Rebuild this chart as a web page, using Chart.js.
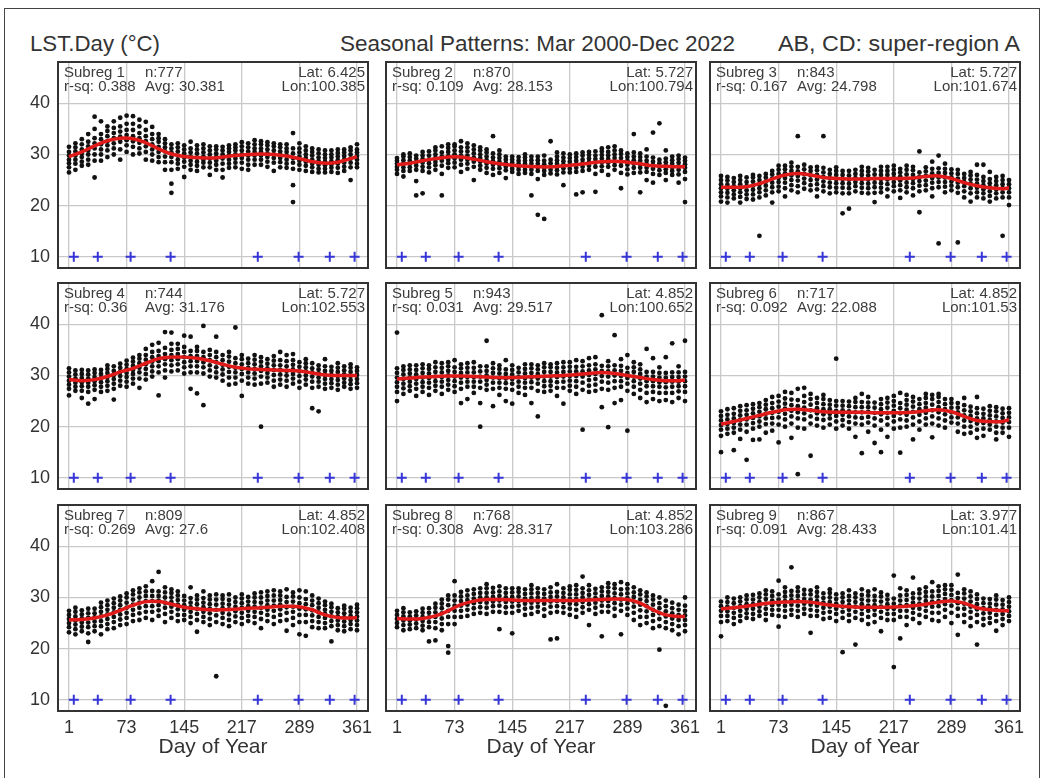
<!DOCTYPE html>
<html>
<head>
<meta charset="utf-8">
<title>LST.Day seasonal patterns</title>
<script src="https://cdn.jsdelivr.net/npm/chart.js@4.4.1/dist/chart.umd.min.js"></script>
<style>
  body { margin: 0; background: #fff; width: 1044px; height: 778px; overflow: hidden; position: relative;
         font-family: "Liberation Sans", Arial, sans-serif; color: #333; }
  #frame { position: absolute; left: 4px; top: 8px; width: 1034px; height: 800px; border: 1.5px solid #444; }
  .title { position: absolute; top: 33px; font-size: 22px; line-height: 22px; white-space: nowrap; transform-origin: left top; color: #333; }
  .plot canvas { position: absolute; }
  .box { position: absolute; border: 2px solid #333; box-sizing: border-box; pointer-events: none; }
  .hdr { position: absolute; font-size: 15px; line-height: 14px; white-space: nowrap; color: #3c3c3c; }
</style>
</head>
<body>
<div id="frame"></div>
<div class="title" style="left:30px" data-w="130">LST.Day (°C)</div>
<div class="title" style="left:340px" data-w="395">Seasonal Patterns: Mar 2000-Dec 2022</div>
<div class="title" style="left:778px" data-w="242">AB, CD: super-region A</div>
<div id="plots" class="plot"></div>

<script>
// 8-day composite days, smoothed-curve knots, axis ticks
const compositeDays = [1, 9, 17, 25, 33, 41, 49, 57, 65, 73, 81, 89, 97, 105, 113, 121, 129, 137, 145, 153, 161, 169, 177,
  185, 193, 201, 209, 217, 225, 233, 241, 249, 257, 265, 273, 281, 289, 297, 305, 313, 321, 329, 337, 345, 353, 361];
const curveDays = [1, 17, 33, 49, 65, 81, 97, 113, 129, 145, 161, 177, 193, 209, 225, 241, 257, 273, 289, 305, 321, 337, 353, 361];
const xTickValues = [1, 73, 145, 217, 289, 361];
const yTickValues = [10, 20, 30, 40];
const markerDays = [7, 37, 78, 128, 237, 288, 327, 358];
const markerLevel = 10;

// panel header info
const subregN = [777, 870, 843, 744, 943, 717, 809, 768, 867];
const rSq = ["0.388", "0.109", "0.167", "0.36", "0.031", "0.092", "0.269", "0.308", "0.091"];
const avgLst = ["30.381", "28.153", "24.798", "31.176", "29.517", "22.088", "27.6", "28.317", "28.433"];
const lat = ["6.425", "5.727", "5.727", "5.727", "4.852", "4.852", "4.852", "4.852", "3.977"];
const lon = ["100.385", "100.794", "101.674", "102.553", "100.652", "101.53", "102.408", "103.286", "101.41"];

// smoothed seasonal curve per subregion (at curveDays)
const curve1 = [29.6, 30.5, 31.7, 32.7, 33.2, 33.1, 32.3, 31.1, 30.1, 29.6, 29.4, 29.3, 29.5, 29.8, 30.0, 30.1, 30.0, 29.7, 29.2, 28.6, 28.3, 28.5, 29.2, 29.6];
const curve2 = [28.0, 28.3, 28.8, 29.2, 29.5, 29.5, 29.1, 28.6, 28.2, 27.9, 27.7, 27.6, 27.6, 27.8, 28.0, 28.3, 28.6, 28.7, 28.5, 28.2, 27.8, 27.7, 27.6, 27.6];
const curve3 = [23.6, 23.6, 23.7, 24.3, 25.2, 26.0, 26.3, 26.0, 25.5, 25.3, 25.2, 25.2, 25.3, 25.3, 25.3, 25.4, 25.7, 25.8, 25.3, 24.5, 23.9, 23.5, 23.3, 23.5];
const curve4 = [29.2, 29.0, 29.2, 29.8, 30.7, 31.4, 32.4, 33.3, 33.6, 33.6, 33.4, 32.9, 32.2, 31.6, 31.3, 31.2, 31.1, 31.0, 30.9, 30.5, 30.1, 30.0, 30.0, 30.0];
const curve5 = [29.3, 29.5, 29.7, 29.8, 29.9, 29.9, 29.8, 29.7, 29.6, 29.6, 29.7, 29.8, 29.9, 30.0, 30.2, 30.4, 30.6, 30.4, 30.0, 29.6, 29.2, 29.0, 29.0, 29.1];
const curve6 = [20.5, 21.0, 21.6, 22.2, 22.8, 23.3, 23.4, 23.2, 22.9, 22.8, 22.8, 22.8, 22.7, 22.7, 22.7, 22.8, 23.1, 23.3, 22.9, 22.0, 21.2, 21.0, 21.0, 21.4];
const curve7 = [25.6, 25.7, 26.0, 26.6, 27.5, 28.5, 29.2, 29.2, 28.7, 28.1, 27.8, 27.6, 27.6, 27.7, 27.9, 28.0, 28.2, 28.3, 28.2, 27.6, 26.6, 26.1, 26.0, 26.1];
const curve8 = [25.9, 25.8, 25.9, 26.4, 27.4, 28.6, 29.3, 29.6, 29.6, 29.5, 29.4, 29.4, 29.4, 29.4, 29.4, 29.5, 29.6, 29.7, 29.6, 28.9, 27.6, 26.6, 26.3, 26.3];
const curve9 = [27.8, 28.0, 28.3, 28.7, 29.0, 29.1, 29.2, 29.1, 28.7, 28.4, 28.2, 28.1, 28.1, 28.1, 28.2, 28.4, 28.7, 29.1, 29.3, 28.9, 28.0, 27.6, 27.4, 27.4];

// observed LST values, one list per composite day
const dots1 = [
  [26.5, 27.5, 28.3, 29.0, 29.8, 30.5, 31.5], [27.0, 28.2, 29.0, 29.8, 30.6, 31.4, 32.2], [27.8, 28.6, 29.5, 30.2, 31.0, 32.0, 33.0],
  [28.0, 29.0, 30.0, 30.8, 31.6, 32.5, 34.0], [25.5, 28.8, 30.0, 31.2, 32.2, 33.2, 35.0, 37.4], [28.8, 30.0, 31.0, 32.0, 33.0, 34.0, 36.5],
  [29.5, 30.8, 31.8, 32.6, 33.6, 34.6, 35.5], [30.0, 31.2, 32.2, 33.2, 34.2, 35.2, 36.5], [29.0, 31.0, 32.5, 33.5, 34.5, 35.5, 37.2],
  [30.5, 31.8, 32.8, 33.8, 34.8, 36.0, 37.6], [30.0, 31.5, 32.6, 33.6, 34.8, 36.0, 37.5], [30.2, 31.2, 32.3, 33.2, 34.2, 35.5, 36.8],
  [29.0, 30.5, 31.6, 32.6, 33.6, 34.8, 36.4], [28.8, 30.0, 31.0, 32.0, 33.0, 34.0, 35.4], [28.5, 29.5, 30.5, 31.5, 32.5, 33.2, 34.0],
  [27.0, 28.5, 29.6, 30.6, 31.4, 32.2, 33.0], [22.5, 24.3, 27.0, 28.5, 29.5, 30.4, 31.2, 32.0], [27.2, 28.2, 29.0, 29.8, 30.6, 31.4, 32.2],
  [25.6, 27.6, 28.6, 29.4, 30.2, 31.0, 31.8], [27.0, 28.0, 28.8, 29.6, 30.4, 31.2, 32.5], [26.8, 27.8, 28.6, 29.4, 30.2, 31.0, 31.8],
  [27.5, 28.4, 29.0, 29.6, 30.4, 31.2, 32.0], [26.0, 27.5, 28.4, 29.2, 30.0, 30.8, 31.6], [27.0, 28.0, 28.8, 29.5, 30.2, 31.0, 31.6],
  [25.5, 27.0, 28.2, 29.2, 30.0, 30.8, 31.5], [27.4, 28.2, 29.0, 29.8, 30.5, 31.2, 31.8], [27.5, 28.4, 29.2, 30.0, 30.8, 31.4, 32.0],
  [27.2, 28.4, 29.3, 30.0, 30.8, 31.6, 32.4], [27.0, 28.0, 29.0, 29.8, 30.6, 31.4, 32.2], [28.0, 29.0, 29.8, 30.5, 31.2, 32.0, 32.8],
  [28.0, 29.0, 29.8, 30.5, 31.2, 32.0, 32.6], [27.6, 28.6, 29.5, 30.2, 31.0, 31.8, 32.4], [26.8, 28.4, 29.3, 30.0, 30.8, 31.6, 32.2],
  [27.5, 28.5, 29.3, 30.0, 30.6, 31.4, 32.0], [27.4, 28.2, 29.0, 29.8, 30.5, 31.2, 32.0], [20.7, 24.0, 27.2, 28.4, 29.3, 30.2, 31.2, 34.2],
  [27.0, 28.0, 28.8, 29.6, 30.4, 31.2, 32.2], [26.8, 27.8, 28.6, 29.3, 30.0, 30.8, 31.6], [26.6, 27.5, 28.2, 29.0, 29.8, 30.5, 31.2],
  [26.5, 27.2, 28.0, 28.7, 29.4, 30.2, 31.0], [26.5, 27.2, 27.9, 28.6, 29.3, 30.0, 30.8], [26.6, 27.4, 28.0, 28.7, 29.4, 30.0, 30.8],
  [26.4, 27.4, 28.2, 28.9, 29.6, 30.3, 31.0], [26.8, 27.6, 28.4, 29.0, 29.7, 30.4, 31.0], [25.0, 27.5, 28.4, 29.2, 30.0, 30.8, 31.4],
  [27.5, 28.2, 29.0, 29.7, 30.4, 31.0, 32.0]
];
const dots2 = [
  [26.2, 27.0, 27.6, 28.2, 28.8, 29.3], [25.7, 26.8, 27.5, 28.2, 28.9, 29.6, 30.0], [26.8, 27.5, 28.2, 28.8, 29.5, 30.2],
  [22.0, 24.8, 27.0, 27.8, 28.5, 29.2, 29.8], [22.4, 26.8, 27.6, 28.4, 29.1, 29.8, 30.5], [26.5, 27.5, 28.3, 29.0, 29.8, 30.6],
  [27.0, 27.9, 28.6, 29.3, 30.0, 30.8, 31.4], [22.0, 26.2, 27.8, 28.8, 29.6, 30.4, 31.6], [27.4, 28.3, 29.0, 29.7, 30.5, 31.3, 32.0],
  [27.5, 28.4, 29.2, 30.0, 30.8, 31.6, 32.0], [26.6, 28.0, 29.0, 29.8, 30.6, 31.4, 32.6], [27.2, 28.2, 29.0, 29.8, 30.6, 31.4, 32.2],
  [25.0, 27.6, 28.6, 29.4, 30.2, 31.0, 31.8], [27.0, 27.8, 28.6, 29.3, 30.0, 30.8, 31.4], [26.4, 27.4, 28.2, 28.9, 29.6, 30.4, 31.0],
  [26.0, 27.2, 28.0, 28.7, 29.4, 30.2, 33.6], [26.4, 27.3, 28.0, 28.6, 29.3, 30.0, 30.8], [25.4, 26.9, 27.6, 28.3, 29.0, 29.6],
  [26.6, 27.2, 27.8, 28.4, 29.0, 29.6], [26.2, 27.0, 27.6, 28.2, 28.8, 29.5], [26.4, 27.0, 27.6, 28.2, 28.8, 29.4, 30.0],
  [22.0, 26.2, 27.0, 27.6, 28.2, 28.9, 29.6], [18.2, 25.2, 26.8, 27.5, 28.2, 28.9, 29.6], [17.4, 26.0, 26.8, 27.4, 28.1, 28.8, 29.8],
  [26.3, 27.0, 27.6, 28.3, 29.0, 32.6], [26.1, 26.9, 27.5, 28.2, 28.9, 29.6, 30.4], [24.0, 26.5, 27.3, 28.0, 28.7, 29.4, 30.2],
  [26.5, 27.2, 27.9, 28.6, 29.3, 30.0], [22.2, 26.6, 27.4, 28.1, 28.8, 29.5, 30.2], [22.6, 26.8, 27.6, 28.3, 29.0, 29.8, 30.4],
  [27.0, 27.8, 28.5, 29.2, 29.9, 30.5], [22.7, 26.2, 27.6, 28.4, 29.1, 29.8, 30.6], [26.8, 27.7, 28.5, 29.2, 29.9, 30.6, 31.2],
  [26.0, 27.6, 28.4, 29.1, 29.8, 30.5, 31.4], [27.0, 27.9, 28.6, 29.3, 30.0, 30.8, 31.6], [23.4, 26.4, 27.8, 28.6, 29.3, 30.1, 30.8],
  [26.1, 27.1, 28.0, 28.8, 29.5, 30.2], [26.4, 27.4, 28.2, 28.9, 29.6, 30.4, 34.0], [22.6, 26.5, 27.4, 28.1, 28.8, 29.5, 30.2],
  [25.0, 26.6, 27.4, 28.1, 28.8, 29.6, 31.0], [24.5, 26.2, 27.2, 27.9, 28.6, 29.4, 34.3], [26.0, 26.9, 27.6, 28.3, 29.0, 36.1],
  [25.0, 26.4, 27.1, 27.8, 28.5, 29.2, 30.8], [26.0, 26.8, 27.5, 28.2, 28.9, 29.6], [24.5, 26.1, 27.0, 27.7, 28.4, 29.1, 29.8],
  [20.7, 25.2, 26.6, 27.4, 28.1, 28.8, 29.4]
];
const dots3 = [
  [20.8, 21.8, 22.6, 23.4, 24.2, 25.0, 25.8], [20.6, 21.6, 22.5, 23.3, 24.1, 24.9, 25.6], [21.4, 22.2, 23.0, 23.8, 24.6, 25.4],
  [20.6, 21.7, 22.6, 23.4, 24.2, 25.0, 25.8], [21.3, 22.2, 23.0, 23.8, 24.6, 25.5], [21.2, 22.2, 23.1, 23.9, 24.7, 25.5, 26.0],
  [14.1, 21.6, 22.6, 23.4, 24.2, 25.0, 25.8], [22.0, 23.0, 23.9, 24.7, 25.5, 26.2], [20.6, 22.6, 23.6, 24.5, 25.3, 26.1, 26.8],
  [22.8, 23.7, 24.6, 25.4, 26.2, 27.0, 27.8], [21.8, 23.4, 24.5, 25.4, 26.3, 27.1, 27.8], [23.0, 24.0, 25.0, 25.9, 26.8, 27.6, 28.4],
  [22.6, 23.8, 24.9, 25.8, 26.7, 27.6, 33.6], [23.3, 24.4, 25.3, 26.2, 27.1, 28.0], [23.0, 24.0, 25.0, 25.9, 26.8, 27.5],
  [21.8, 23.2, 24.2, 25.1, 26.0, 26.9, 27.6], [22.8, 23.8, 24.7, 25.6, 26.5, 27.4, 33.6], [22.4, 23.6, 24.5, 25.4, 26.2, 27.0],
  [22.6, 23.5, 24.4, 25.2, 26.0, 26.8, 27.5], [18.5, 22.4, 23.5, 24.4, 25.2, 26.0, 26.8], [19.4, 22.4, 23.4, 24.3, 25.1, 25.9, 26.8],
  [22.8, 23.8, 24.6, 25.4, 26.2, 27.0], [22.5, 23.5, 24.4, 25.2, 26.0, 26.8, 27.6], [22.4, 23.4, 24.3, 25.1, 25.9, 26.7, 27.4],
  [20.7, 22.5, 23.6, 24.5, 25.3, 26.1, 27.0], [22.6, 23.5, 24.4, 25.2, 26.0, 26.8, 27.6], [21.8, 23.2, 24.2, 25.1, 26.0, 26.8, 27.6],
  [22.8, 23.8, 24.6, 25.4, 26.2, 27.0, 27.8], [21.5, 23.0, 24.0, 24.9, 25.7, 26.5, 27.2], [22.6, 23.6, 24.5, 25.3, 26.1, 27.0, 27.8],
  [22.0, 23.4, 24.4, 25.2, 26.0, 26.9, 27.6], [18.7, 22.8, 23.9, 24.8, 25.6, 26.5, 30.6], [23.0, 24.0, 24.9, 25.8, 26.7, 27.5],
  [21.8, 23.4, 24.5, 25.4, 26.3, 27.2, 28.6], [12.6, 23.6, 24.6, 25.5, 26.4, 27.3, 29.8], [22.6, 23.7, 24.6, 25.5, 26.4, 27.2, 28.2],
  [23.0, 23.9, 24.7, 25.5, 26.3, 27.1], [12.8, 22.5, 23.6, 24.5, 25.3, 26.2, 27.0], [21.6, 22.8, 23.8, 24.6, 25.4, 26.2],
  [20.8, 22.4, 23.4, 24.3, 25.1, 25.9, 26.6], [21.6, 22.6, 23.5, 24.3, 25.1, 26.0, 28.0], [21.4, 22.4, 23.2, 24.0, 24.8, 25.6, 28.0],
  [20.8, 21.9, 22.8, 23.6, 24.4, 25.2, 26.6], [21.4, 22.4, 23.2, 24.0, 24.8, 25.6], [14.1, 21.6, 22.6, 23.4, 24.2, 25.0, 25.8],
  [20.1, 21.6, 22.6, 23.4, 24.2, 25.0]
];
const dots4 = [
  [26.1, 27.4, 28.2, 29.0, 29.8, 30.6, 31.4], [27.0, 27.8, 28.6, 29.4, 30.2, 31.0], [25.6, 27.0, 27.9, 28.7, 29.5, 30.3, 31.1],
  [24.5, 26.8, 27.8, 28.6, 29.4, 30.2, 31.0], [25.4, 27.2, 28.1, 28.9, 29.7, 30.5, 31.2], [26.8, 27.8, 28.7, 29.5, 30.3, 31.1],
  [27.0, 28.0, 28.9, 29.7, 30.5, 31.3, 32.0], [25.3, 27.4, 28.4, 29.3, 30.1, 30.9, 31.8], [28.0, 29.0, 29.9, 30.7, 31.5, 32.3],
  [27.8, 28.8, 29.7, 30.5, 31.3, 32.1, 32.9], [28.4, 29.4, 30.3, 31.1, 31.9, 32.7, 33.5], [27.6, 29.4, 30.6, 31.5, 32.4, 33.3, 34.0],
  [29.2, 30.3, 31.3, 32.2, 33.1, 34.0, 35.2], [29.8, 30.8, 31.8, 32.7, 33.6, 34.6, 36.0], [26.1, 30.6, 31.8, 32.8, 33.8, 34.8, 36.4],
  [29.6, 31.0, 32.2, 33.2, 34.2, 35.4, 38.5], [30.8, 32.0, 33.0, 34.0, 35.0, 36.2, 38.4], [31.0, 32.2, 33.2, 34.2, 35.2, 36.2],
  [30.4, 31.6, 32.6, 33.6, 34.6, 35.6, 37.8], [27.4, 30.6, 31.8, 32.8, 33.8, 34.8, 37.6], [26.5, 30.6, 31.8, 32.8, 33.8, 34.8, 35.6],
  [24.2, 30.4, 31.6, 32.6, 33.6, 34.6, 39.7], [29.8, 31.0, 32.0, 33.0, 34.0, 35.0], [29.6, 30.6, 31.6, 32.6, 33.6, 34.6, 37.6],
  [29.0, 30.2, 31.2, 32.1, 33.0, 34.0], [28.2, 29.6, 30.7, 31.7, 32.7, 33.7, 34.6], [28.4, 29.6, 30.6, 31.5, 32.4, 33.4, 39.4],
  [26.0, 29.0, 30.3, 31.3, 32.2, 33.2, 34.0], [28.4, 29.6, 30.6, 31.5, 32.4, 33.3], [28.2, 29.4, 30.4, 31.3, 32.2, 33.1, 34.0],
  [20.0, 28.4, 29.8, 30.9, 31.8, 32.7, 33.6], [28.6, 29.6, 30.5, 31.4, 32.3, 33.2], [27.8, 29.0, 30.1, 31.1, 32.0, 32.9, 33.8],
  [28.2, 29.2, 30.2, 31.1, 32.0, 33.0, 34.6], [27.8, 29.0, 30.0, 30.9, 31.8, 32.8, 34.0], [28.4, 29.4, 30.3, 31.2, 32.1, 33.0, 34.2],
  [27.6, 28.8, 29.9, 30.8, 31.7, 32.6], [28.2, 29.2, 30.0, 30.8, 31.6, 32.4, 33.2], [23.6, 27.6, 28.8, 29.8, 30.6, 31.4, 32.4],
  [23.0, 27.8, 28.8, 29.6, 30.4, 31.2, 32.0], [27.4, 28.4, 29.3, 30.1, 30.9, 31.8, 33.2], [27.6, 28.5, 29.3, 30.1, 30.9, 31.7],
  [27.2, 28.2, 29.1, 29.9, 30.7, 31.5, 32.4], [27.8, 28.6, 29.4, 30.2, 31.0, 31.8], [27.4, 28.3, 29.1, 29.9, 30.7, 31.5, 32.2],
  [27.6, 28.5, 29.3, 30.1, 30.9, 31.6]
];
const dots5 = [
  [25.0, 26.8, 27.8, 28.7, 29.6, 30.5, 31.4, 38.4], [26.4, 27.5, 28.4, 29.3, 30.2, 31.1, 31.8], [27.0, 27.9, 28.8, 29.6, 30.4, 31.2, 32.0],
  [26.0, 27.4, 28.4, 29.3, 30.2, 31.1, 32.0], [26.8, 27.8, 28.7, 29.6, 30.5, 31.4, 32.2], [26.2, 27.6, 28.6, 29.5, 30.4, 31.3, 32.0],
  [27.0, 28.0, 28.9, 29.8, 30.7, 31.6, 32.6], [26.4, 27.8, 28.8, 29.7, 30.6, 31.5, 32.4], [27.2, 28.2, 29.1, 30.0, 30.9, 31.8, 32.6],
  [26.8, 27.9, 28.9, 29.8, 30.7, 31.6, 33.0], [24.6, 27.4, 28.6, 29.6, 30.5, 31.4, 32.2], [25.4, 27.8, 28.8, 29.7, 30.6, 31.5, 32.4],
  [26.6, 27.8, 28.8, 29.7, 30.6, 31.5, 32.6], [20.0, 24.6, 27.6, 28.8, 29.8, 30.8, 31.8], [27.2, 28.2, 29.1, 30.0, 30.9, 31.8, 36.8],
  [24.0, 27.4, 28.6, 29.6, 30.5, 31.4, 32.4], [26.2, 27.6, 28.6, 29.5, 30.4, 31.3, 32.0], [25.0, 27.4, 28.5, 29.4, 30.3, 31.2, 33.0],
  [24.5, 27.2, 28.4, 29.3, 30.2, 31.1, 32.0], [26.6, 27.8, 28.8, 29.7, 30.6, 31.5], [26.2, 27.6, 28.6, 29.5, 30.4, 31.3, 32.2],
  [24.6, 27.6, 28.7, 29.6, 30.5, 31.4, 32.2], [22.0, 27.0, 28.4, 29.4, 30.3, 31.2, 32.0], [26.8, 27.9, 28.9, 29.8, 30.7, 31.6, 32.4],
  [27.0, 28.0, 28.9, 29.8, 30.7, 31.6, 32.2], [26.0, 27.6, 28.7, 29.7, 30.6, 31.5, 32.4], [24.5, 27.6, 28.8, 29.8, 30.7, 31.6, 32.6],
  [27.0, 28.0, 29.0, 29.9, 30.8, 31.7, 32.6], [26.4, 27.8, 28.9, 29.9, 30.8, 31.7, 33.0], [19.4, 27.2, 28.6, 29.8, 30.8, 31.8, 32.8],
  [26.8, 28.0, 29.1, 30.1, 31.0, 32.0, 33.4], [27.0, 28.2, 29.3, 30.3, 31.2, 32.2, 33.6], [23.8, 27.4, 28.8, 29.9, 30.9, 31.9, 41.8],
  [19.9, 27.2, 28.6, 29.8, 30.8, 31.8, 32.8], [24.6, 27.6, 28.9, 30.0, 31.0, 32.0, 37.9], [25.2, 27.8, 28.9, 29.9, 30.9, 31.9, 33.2],
  [19.2, 27.0, 28.4, 29.5, 30.5, 31.5, 34.0], [26.4, 27.8, 28.9, 29.8, 30.7, 31.6, 32.6], [25.6, 27.2, 28.4, 29.4, 30.3, 31.2, 32.2],
  [24.8, 26.6, 27.9, 28.9, 29.8, 30.7, 35.2], [25.4, 26.8, 27.9, 28.9, 29.8, 30.7, 33.4], [25.0, 26.6, 27.8, 28.7, 29.6, 30.5, 31.6],
  [25.2, 26.6, 27.7, 28.7, 29.6, 30.5, 33.6], [24.8, 26.6, 27.8, 28.8, 29.7, 30.6, 36.3], [25.6, 26.9, 27.9, 28.8, 29.7, 30.6, 31.8],
  [25.0, 26.8, 27.9, 28.9, 29.8, 30.7, 36.8]
];
const dots6 = [
  [15.0, 18.2, 19.4, 20.3, 21.2, 22.1, 23.0], [18.6, 19.6, 20.5, 21.4, 22.3, 23.4], [15.4, 18.8, 19.8, 20.7, 21.6, 22.5, 23.6],
  [17.6, 19.4, 20.4, 21.3, 22.2, 23.1, 24.0], [13.5, 19.0, 20.4, 21.4, 22.3, 23.2, 24.2], [17.4, 19.6, 20.7, 21.7, 22.6, 23.5, 24.4],
  [17.5, 20.0, 21.0, 22.0, 22.9, 23.8, 24.6], [18.8, 20.5, 21.6, 22.5, 23.4, 24.3, 25.2], [19.2, 20.6, 21.7, 22.7, 23.6, 24.6, 25.8],
  [16.9, 20.4, 21.8, 22.9, 23.9, 24.9, 26.0], [20.0, 21.4, 22.5, 23.5, 24.5, 25.5, 26.8], [17.8, 20.6, 22.0, 23.1, 24.2, 25.3, 26.6],
  [10.7, 19.8, 21.6, 22.8, 24.0, 25.2, 27.4], [19.6, 21.4, 22.6, 23.7, 24.8, 26.0, 27.6], [14.3, 20.6, 22.0, 23.2, 24.3, 25.4, 26.4],
  [20.2, 21.5, 22.6, 23.6, 24.6, 25.6], [19.8, 21.3, 22.4, 23.4, 24.4, 25.4, 26.2], [20.4, 21.6, 22.5, 23.4, 24.3, 25.2],
  [19.6, 21.0, 22.1, 23.1, 24.1, 25.0, 33.3], [20.2, 21.3, 22.3, 23.2, 24.1, 25.0], [19.6, 20.9, 22.0, 23.0, 24.0, 24.9],
  [18.0, 20.6, 21.8, 22.8, 23.8, 24.8, 25.6], [14.8, 20.4, 21.7, 22.8, 23.8, 24.8, 26.4], [19.0, 20.8, 21.9, 22.9, 23.8, 24.7, 25.8],
  [16.8, 20.2, 21.6, 22.7, 23.7, 24.7], [15.0, 19.4, 21.2, 22.4, 23.4, 24.4, 25.4], [18.0, 20.4, 21.7, 22.7, 23.7, 24.7, 25.6],
  [19.6, 21.0, 22.1, 23.1, 24.1, 25.0, 26.0], [14.9, 19.8, 21.4, 22.6, 23.6, 24.6, 26.6], [20.0, 21.2, 22.3, 23.3, 24.3, 25.2, 26.2],
  [17.5, 20.4, 21.8, 22.9, 23.9, 24.9, 25.8], [19.4, 21.0, 22.3, 23.4, 24.4, 25.4], [20.4, 21.6, 22.7, 23.7, 24.6, 25.6, 26.4],
  [17.9, 20.6, 22.0, 23.2, 24.3, 25.4, 26.2], [20.2, 21.6, 22.8, 23.8, 24.8, 25.8, 26.4], [19.8, 21.2, 22.4, 23.4, 24.4, 25.4],
  [20.8, 21.8, 22.8, 23.7, 24.6, 25.4], [19.0, 20.6, 21.8, 22.8, 23.7, 24.6], [18.6, 20.0, 21.2, 22.2, 23.2, 24.2, 25.6],
  [18.8, 20.0, 21.1, 22.1, 23.0, 23.9], [17.8, 19.4, 20.6, 21.6, 22.6, 23.6, 25.8], [18.2, 19.6, 20.7, 21.6, 22.5, 23.5],
  [19.4, 20.4, 21.3, 22.2, 23.1, 24.0], [17.5, 18.8, 20.0, 21.0, 22.0, 23.0, 23.8], [18.8, 19.8, 20.8, 21.7, 22.6, 23.5],
  [18.0, 19.8, 20.9, 21.8, 22.7, 23.6]
];
const dots7 = [
  [23.2, 24.2, 25.0, 25.8, 26.6, 27.4], [22.8, 23.8, 24.7, 25.5, 26.3, 27.2, 28.0], [23.4, 24.3, 25.1, 25.9, 26.7, 27.5],
  [21.3, 23.0, 24.2, 25.1, 26.0, 26.9, 27.8], [23.4, 24.4, 25.3, 26.1, 26.9, 27.8], [22.8, 24.4, 25.4, 26.3, 27.2, 28.1, 29.0],
  [23.8, 24.8, 25.8, 26.7, 27.6, 28.5, 29.4], [24.0, 25.2, 26.2, 27.1, 28.0, 28.9, 29.8], [24.6, 25.7, 26.7, 27.6, 28.5, 29.4, 30.2],
  [24.8, 26.0, 27.0, 28.0, 29.0, 30.0, 30.8], [25.4, 26.6, 27.6, 28.6, 29.6, 30.6, 31.4], [25.6, 26.9, 28.0, 29.0, 30.0, 31.0, 31.8],
  [26.0, 27.2, 28.3, 29.3, 30.3, 31.2, 32.2], [25.6, 27.2, 28.3, 29.3, 30.3, 31.3, 33.2], [26.4, 27.5, 28.5, 29.4, 30.3, 31.2, 35.0],
  [25.2, 26.8, 28.0, 29.0, 30.0, 31.0, 32.0], [26.0, 27.2, 28.2, 29.1, 30.0, 30.9, 31.6], [25.4, 26.6, 27.7, 28.6, 29.5, 30.4, 31.2],
  [25.6, 26.6, 27.6, 28.5, 29.4, 30.3], [25.0, 26.2, 27.2, 28.1, 29.0, 29.9, 32.0], [23.3, 25.6, 26.8, 27.8, 28.7, 29.6, 30.4],
  [25.2, 26.2, 27.2, 28.1, 29.0, 29.9, 31.2], [24.6, 25.8, 26.9, 27.8, 28.7, 29.6, 30.4], [14.6, 25.2, 26.5, 27.6, 28.6, 29.6, 30.6],
  [24.8, 26.0, 27.0, 27.9, 28.8, 29.7, 30.4], [24.4, 25.6, 26.7, 27.7, 28.6, 29.5, 30.6], [25.2, 26.3, 27.3, 28.2, 29.1, 30.0],
  [24.8, 26.0, 27.0, 28.0, 28.9, 29.8, 30.6], [25.4, 26.4, 27.4, 28.3, 29.2, 30.1], [25.0, 26.2, 27.2, 28.2, 29.1, 30.0, 30.8],
  [24.0, 25.8, 27.0, 28.0, 29.0, 30.0, 31.0], [25.4, 26.6, 27.6, 28.5, 29.4, 30.3, 31.2], [24.8, 26.2, 27.4, 28.4, 29.4, 30.4, 31.4],
  [25.4, 26.6, 27.7, 28.6, 29.5, 30.4, 31.2], [23.5, 25.6, 27.0, 28.1, 29.1, 30.1, 31.6], [24.6, 26.0, 27.2, 28.2, 29.2, 30.2, 31.0],
  [22.8, 25.2, 26.6, 27.8, 28.9, 30.0, 31.4], [22.5, 25.2, 26.6, 27.7, 28.7, 29.7, 31.2], [24.2, 25.4, 26.5, 27.5, 28.5, 29.4, 30.4],
  [24.0, 25.2, 26.2, 27.1, 28.0, 28.9, 29.8], [24.0, 25.0, 26.0, 26.8, 27.6, 28.5, 29.2], [21.4, 24.4, 25.4, 26.3, 27.2, 28.1, 28.8],
  [23.6, 24.6, 25.5, 26.3, 27.1, 27.9], [23.4, 24.4, 25.3, 26.1, 26.9, 27.8, 28.4], [23.8, 24.8, 25.6, 26.4, 27.2, 28.0],
  [23.6, 24.6, 25.5, 26.3, 27.1, 27.9, 28.6]
];
const dots8 = [
  [24.2, 25.0, 25.8, 26.6, 27.4], [23.6, 24.6, 25.5, 26.3, 27.1, 27.9], [23.8, 24.7, 25.5, 26.3, 27.1],
  [24.0, 24.9, 25.7, 26.5, 27.3], [23.6, 24.5, 25.4, 26.2, 27.0, 27.8], [21.4, 24.2, 25.2, 26.1, 27.0, 27.9],
  [21.6, 24.0, 25.2, 26.2, 27.1, 28.0, 28.8], [23.6, 24.8, 25.9, 26.9, 27.9, 28.8, 29.6], [19.2, 20.5, 24.8, 26.2, 27.4, 28.5, 29.6, 30.4],
  [24.8, 26.2, 27.4, 28.4, 29.4, 30.4, 33.2], [26.2, 27.4, 28.4, 29.3, 30.2, 31.1], [26.4, 27.6, 28.6, 29.5, 30.4, 31.4],
  [26.8, 27.9, 28.9, 29.8, 30.7, 31.6], [27.0, 28.1, 29.1, 30.0, 30.9, 31.8], [26.8, 28.0, 29.0, 30.0, 30.9, 31.8, 32.6],
  [27.2, 28.3, 29.2, 30.1, 31.0, 31.9], [23.8, 27.2, 28.4, 29.4, 30.3, 31.2, 32.2], [27.0, 28.1, 29.1, 30.0, 30.9, 31.8],
  [23.0, 27.0, 28.2, 29.2, 30.1, 31.0, 31.8], [27.4, 28.4, 29.3, 30.2, 31.1, 31.8], [26.6, 27.8, 28.8, 29.8, 30.7, 31.6],
  [26.8, 28.0, 29.0, 29.9, 30.8, 31.6, 32.4], [27.2, 28.2, 29.1, 30.0, 30.9, 31.8], [26.4, 27.7, 28.8, 29.8, 30.7, 31.6],
  [21.8, 27.0, 28.2, 29.2, 30.1, 31.0, 32.0], [22.0, 27.2, 28.3, 29.3, 30.2, 31.1, 32.6], [27.0, 28.1, 29.1, 30.0, 30.9, 31.8],
  [26.6, 27.8, 28.8, 29.7, 30.6, 31.5, 32.2], [26.2, 27.6, 28.7, 29.7, 30.6, 31.5, 32.4], [27.0, 28.1, 29.1, 30.0, 30.9, 31.8, 34.1],
  [24.6, 27.6, 28.7, 29.6, 30.5, 31.4, 32.4], [26.8, 28.0, 29.0, 29.9, 30.8, 31.7], [22.4, 27.2, 28.4, 29.4, 30.3, 31.2, 32.0],
  [27.2, 28.3, 29.3, 30.2, 31.1, 32.0, 32.8], [26.4, 27.8, 28.9, 29.9, 30.8, 31.8, 32.6], [22.8, 27.4, 28.6, 29.6, 30.6, 31.6, 33.0],
  [26.6, 27.8, 28.9, 29.9, 30.8, 31.7, 32.6], [25.6, 27.0, 28.2, 29.2, 30.1, 31.0, 32.0], [24.6, 26.2, 27.5, 28.6, 29.6, 30.6, 31.4],
  [25.0, 26.2, 27.3, 28.3, 29.3, 30.2, 31.0], [24.0, 25.4, 26.6, 27.6, 28.6, 29.6, 30.4], [19.8, 24.4, 25.8, 26.9, 27.9, 28.9, 30.0],
  [8.8, 24.0, 25.2, 26.3, 27.3, 28.3, 29.4], [23.6, 24.8, 25.9, 26.9, 27.9, 29.0], [22.8, 24.4, 25.6, 26.6, 27.6, 28.6],
  [23.4, 24.6, 25.6, 26.5, 27.4, 28.4, 30.0]
];
const dots9 = [
  [22.4, 25.2, 26.4, 27.4, 28.3, 29.2], [25.4, 26.4, 27.3, 28.2, 29.1, 30.0], [24.8, 26.0, 27.0, 28.0, 28.9, 29.8],
  [25.4, 26.4, 27.4, 28.3, 29.2, 30.0], [26.0, 26.9, 27.8, 28.7, 29.6, 30.4], [25.8, 26.8, 27.8, 28.7, 29.6, 30.5],
  [26.4, 27.3, 28.2, 29.1, 30.0, 30.8], [25.6, 26.8, 27.8, 28.8, 29.7, 30.6, 31.4], [26.6, 27.6, 28.5, 29.4, 30.3, 31.2],
  [24.3, 26.4, 27.6, 28.6, 29.6, 30.6, 33.3], [26.2, 27.4, 28.4, 29.3, 30.2, 31.1, 32.0], [26.6, 27.6, 28.6, 29.5, 30.4, 31.3, 35.9],
  [26.2, 27.4, 28.4, 29.4, 30.3, 31.2, 32.0], [26.8, 27.8, 28.8, 29.7, 30.6, 31.5], [23.1, 26.4, 27.6, 28.6, 29.6, 30.6, 31.4],
  [26.4, 27.4, 28.4, 29.3, 30.2, 31.1, 32.0], [25.8, 27.0, 28.0, 29.0, 29.9, 30.8], [26.0, 27.2, 28.2, 29.1, 30.0, 30.9, 31.6],
  [25.4, 26.8, 27.8, 28.8, 29.7, 30.6], [19.3, 26.0, 27.2, 28.2, 29.1, 30.0, 30.8], [25.4, 26.6, 27.6, 28.5, 29.4, 30.3, 31.4],
  [20.8, 26.0, 27.2, 28.2, 29.1, 30.0, 30.8], [25.6, 26.8, 27.8, 28.7, 29.6, 30.5, 31.6], [24.8, 26.2, 27.4, 28.4, 29.4, 30.4, 31.2],
  [25.2, 26.6, 27.6, 28.5, 29.4, 30.3, 31.6], [23.4, 26.0, 27.2, 28.2, 29.2, 30.2, 31.0], [25.6, 26.8, 27.8, 28.7, 29.6, 30.5],
  [16.4, 25.6, 26.8, 27.8, 28.8, 29.8, 34.3], [22.0, 26.2, 27.4, 28.4, 29.4, 30.4, 31.8], [24.6, 26.2, 27.4, 28.5, 29.5, 30.5, 31.4],
  [25.8, 27.0, 28.0, 29.0, 29.9, 30.8, 33.9], [25.0, 26.6, 27.8, 28.8, 29.8, 30.8, 31.6], [26.2, 27.4, 28.4, 29.3, 30.2, 31.1, 32.0],
  [25.6, 27.0, 28.2, 29.2, 30.2, 31.2, 33.0], [25.4, 27.0, 28.3, 29.3, 30.3, 31.3, 32.2], [26.2, 27.6, 28.7, 29.7, 30.7, 31.6, 32.4],
  [25.0, 27.0, 28.4, 29.5, 30.5, 31.5, 32.4], [22.7, 26.4, 27.8, 28.9, 29.9, 30.9, 34.5], [25.2, 26.6, 27.8, 28.8, 29.8, 30.8, 31.6],
  [24.4, 26.0, 27.2, 28.2, 29.2, 30.2, 31.2], [20.8, 25.2, 26.6, 27.7, 28.7, 29.7, 30.6], [24.6, 25.8, 26.9, 27.9, 28.9, 29.8],
  [25.0, 26.0, 27.0, 27.9, 28.8, 29.7], [23.5, 25.4, 26.6, 27.6, 28.6, 29.6, 30.4], [24.6, 25.8, 26.8, 27.7, 28.6, 29.5],
  [25.4, 26.4, 27.3, 28.2, 29.1, 30.0]
];

const curves = [curve1, curve2, curve3, curve4, curve5, curve6, curve7, curve8, curve9];
const dotCols = [dots1, dots2, dots3, dots4, dots5, dots6, dots7, dots8, dots9];

// panel grid geometry
const colLeft = [57, 385, 709];
const rowTop = [61, 282, 504];
const panelW = 312, panelH = 208;
const xMin = -14, xMax = 376, yMin = 7.6, yMax = 48.3;
const FONT = '"Liberation Sans", Arial, sans-serif';

function columnPoints(cols) {
  const pts = [];
  cols.forEach((vals, i) => vals.forEach(v => pts.push({ x: compositeDays[i], y: v })));
  return pts;
}

const host = document.getElementById("plots");

curves.forEach((curve, k) => {
  const r = Math.floor(k / 3), c = k % 3;
  const leftM = c === 0 ? 52 : 0;
  const bottomM = r === 2 ? 50 : 0;
  const rightM = r === 2 ? 14 : 0;   // room for the last day label
  const px = colLeft[c], py = rowTop[r];

  const canvas = document.createElement("canvas");
  canvas.width = panelW + leftM + rightM;
  canvas.height = panelH + bottomM;
  canvas.style.left = (px - leftM) + "px";
  canvas.style.top = py + "px";
  host.appendChild(canvas);

  new Chart(canvas, {
    type: "scatter",
    data: {
      datasets: [
        {
          data: curveDays.map((d, i) => ({ x: d, y: curve[i] })),
          showLine: true, tension: 0.4, pointRadius: 0,
          borderColor: "#e11a1a", borderWidth: 3.5, order: 0
        },
        {
          data: markerDays.map(d => ({ x: d, y: markerLevel })),
          pointStyle: "cross", pointRadius: 5, borderColor: "#3535d8", borderWidth: 2, order: 1
        },
        {
          data: columnPoints(dotCols[k]),
          pointRadius: 2.4, backgroundColor: "#111", borderWidth: 0, order: 2
        }
      ]
    },
    options: {
      responsive: false, animation: false, devicePixelRatio: 1, events: [],
      layout: { padding: { left: 0, top: 0, bottom: 0, right: rightM }, autoPadding: false },
      plugins: { legend: { display: false }, tooltip: { enabled: false } },
      scales: {
        x: {
          type: "linear", min: xMin, max: xMax,
          afterBuildTicks: s => { s.ticks = xTickValues.map(v => ({ value: v })); },
          afterFit: s => { s.height = bottomM; s.paddingLeft = 0; s.paddingRight = 0; },
          grid: { color: "#c9c9c9", lineWidth: 1.3, drawTicks: false },
          border: { display: false },
          ticks: { display: r === 2, padding: 5, color: "#333", font: { family: FONT, size: 18 } },
          title: { display: r === 2, text: "Day of Year", color: "#333", padding: { top: 0, bottom: 2 },
                   font: { family: FONT, size: 21 } }
        },
        y: {
          type: "linear", min: yMin, max: yMax,
          afterBuildTicks: s => { s.ticks = yTickValues.map(v => ({ value: v })); },
          afterFit: s => { s.width = leftM; s.paddingTop = 0; s.paddingBottom = 0; },
          grid: { color: "#c9c9c9", lineWidth: 1.3, drawTicks: false },
          border: { display: false },
          ticks: { display: c === 0, padding: 7, color: "#333", font: { family: FONT, size: 18 } }
        }
      }
    }
  });

  // frame and header text
  const box = document.createElement("div");
  box.className = "box";
  Object.assign(box.style, { left: px + "px", top: py + "px", width: panelW + "px", height: panelH + "px" });
  host.appendChild(box);

  const addText = (txt, x, y, alignRight) => {
    const d = document.createElement("div");
    d.className = "hdr";
    d.textContent = txt;
    d.style.top = (py + y) + "px";
    if (alignRight) d.style.right = (1044 - (px + panelW) + x) + "px";
    else d.style.left = (px + x) + "px";
    host.appendChild(d);
  };
  addText("Subreg " + (k + 1), 7, 4);
  addText("n:" + subregN[k], 88, 4);
  addText("Lat:  " + lat[k], 4, 4, true);
  addText("r-sq: " + rSq[k], 7, 18);
  addText("Avg: " + avgLst[k], 88, 18);
  addText("Lon:" + lon[k], 4, 18, true);
});

// stretch the top titles to their set widths
document.querySelectorAll(".title").forEach(el => {
  const w = +el.dataset.w;
  el.style.transform = "scaleX(" + (w / el.getBoundingClientRect().width) + ")";
});
</script>
</body>
</html>
